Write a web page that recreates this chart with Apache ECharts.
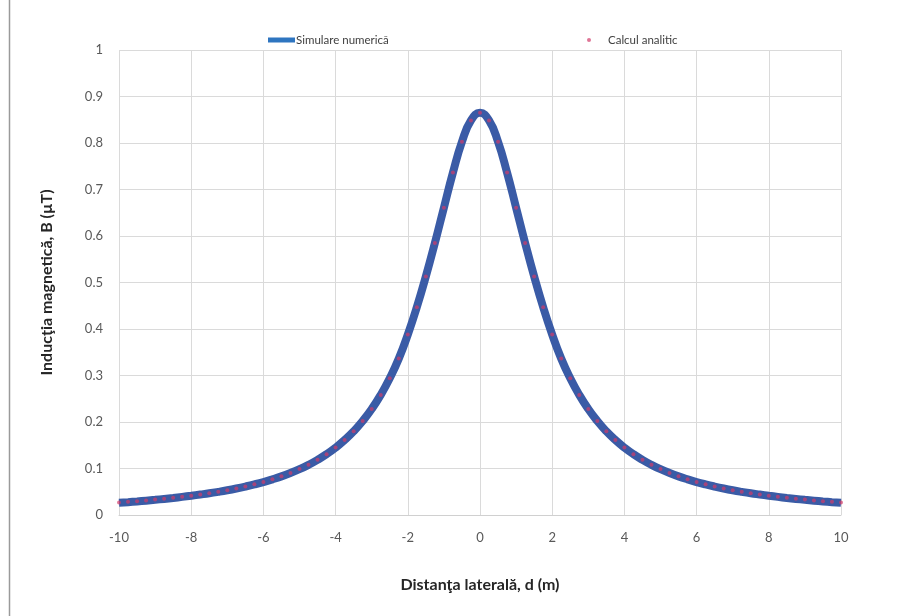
<!DOCTYPE html>
<html>
<head>
<meta charset="utf-8">
<script src="https://cdn.jsdelivr.net/npm/echarts@6/dist/echarts.min.js"></script>
<style>
  html, body { margin: 0; padding: 0; background: #fff; }
  #chart { width: 899px; height: 616px; }
</style>
</head>
<body>
<div id="chart"></div>
<script>
// Lateral distance d (m), 0.25 m step
const distances = [];
for (let i = -40; i <= 40; i++) distances.push(i / 4);

// Magnetic induction B (µT) from the numerical simulation
const simulareNumerica = [
  0.0262, 0.0276, 0.0291, 0.0308, 0.0326, 0.0346, 0.0367, 0.0390, 0.0414, 0.0440,
  0.0467, 0.0498, 0.0532, 0.0570, 0.0612, 0.0658, 0.0709, 0.0767, 0.0831, 0.0904,
  0.0986, 0.1079, 0.1186, 0.1308, 0.1449, 0.1612, 0.1800, 0.2021, 0.2279, 0.2583,
  0.2941, 0.3363, 0.3880, 0.4470, 0.5130, 0.5850, 0.6610, 0.7364, 0.8027, 0.8485,
  0.8650,
  0.8485, 0.8027, 0.7364, 0.6610, 0.5850, 0.5130, 0.4470, 0.3880, 0.3363, 0.2941,
  0.2583, 0.2279, 0.2021, 0.1800, 0.1612, 0.1449, 0.1308, 0.1186, 0.1079, 0.0986,
  0.0904, 0.0831, 0.0767, 0.0709, 0.0658, 0.0612, 0.0570, 0.0532, 0.0498, 0.0467,
  0.0440, 0.0414, 0.0390, 0.0367, 0.0346, 0.0326, 0.0308, 0.0291, 0.0276, 0.0262
];

// Magnetic induction B (µT) from the analytical calculation
const calculAnalitic = [
  0.0270, 0.0283, 0.0298, 0.0314, 0.0331, 0.0349, 0.0369, 0.0391, 0.0414, 0.0440,
  0.0468, 0.0499, 0.0533, 0.0571, 0.0613, 0.0659, 0.0710, 0.0768, 0.0832, 0.0905,
  0.0987, 0.1080, 0.1187, 0.1309, 0.1449, 0.1612, 0.1800, 0.2021, 0.2279, 0.2583,
  0.2941, 0.3363, 0.3880, 0.4470, 0.5130, 0.5850, 0.6610, 0.7364, 0.8027, 0.8485,
  0.8650,
  0.8485, 0.8027, 0.7364, 0.6610, 0.5850, 0.5130, 0.4470, 0.3880, 0.3363, 0.2941,
  0.2583, 0.2279, 0.2021, 0.1800, 0.1612, 0.1449, 0.1309, 0.1187, 0.1080, 0.0987,
  0.0905, 0.0832, 0.0768, 0.0710, 0.0659, 0.0613, 0.0571, 0.0533, 0.0499, 0.0468,
  0.0440, 0.0414, 0.0391, 0.0369, 0.0349, 0.0331, 0.0314, 0.0298, 0.0283, 0.0270
];

const seriesNames = ['Simulare numerică', 'Calcul analitic'];
const xTitle = 'Distanţa laterală, d (m)';
const yTitle = 'Inducţia magnetică, B (µT)';

const FONT = 'Lato, "Open Sans", sans-serif';

const chart = echarts.init(document.getElementById('chart'), null, { renderer: 'canvas' });

chart.setOption({
  backgroundColor: '#ffffff',
  animation: false,
  textStyle: { fontFamily: FONT },
  grid: { left: 119, right: 58, top: 50, bottom: 101 },
  legend: [
    {
      data: [{ name: seriesNames[0], icon: 'rect' }],
      left: 263, top: 29,
      itemWidth: 27, itemHeight: 5, itemGap: 4,
      textStyle: { fontFamily: FONT, fontSize: 11.5, color: '#404040', padding: [0, 0, 0, -4] }
    },
    {
      data: [{ name: seriesNames[1], icon: 'circle' }],
      left: 582, top: 29,
      itemWidth: 4, itemHeight: 4,
      textStyle: { fontFamily: FONT, fontSize: 11.5, color: '#404040', padding: [0, 0, 0, 12] }
    }
  ],
  xAxis: {
    type: 'value',
    min: -10, max: 10, interval: 2,
    name: xTitle,
    nameLocation: 'middle',
    nameGap: 62,
    nameTextStyle: { fontFamily: FONT, fontSize: 16, fontWeight: 'bold', color: '#262626' },
    axisLine: { show: true, onZero: false, lineStyle: { color: '#d0d0d0', width: 1 } },
    axisTick: { show: false },
    axisLabel: { fontFamily: FONT, fontSize: 13, color: '#595959', margin: 16 },
    splitLine: { show: true, lineStyle: { color: '#dadada', width: 1 } }
  },
  yAxis: {
    type: 'value',
    min: 0, max: 1, interval: 0.1,
    name: yTitle,
    nameLocation: 'middle',
    nameGap: 64,
    nameTextStyle: { fontFamily: FONT, fontSize: 16, fontWeight: 'bold', color: '#262626' },
    axisLine: { show: false },
    axisTick: { show: false },
    axisLabel: {
      fontFamily: FONT, fontSize: 13, color: '#595959', margin: 16,
      formatter: v => String(Math.round(v * 10) / 10)
    },
    splitLine: { show: true, lineStyle: { color: '#dadada', width: 1 } }
  },
  series: [
    {
      name: seriesNames[0],
      type: 'line',
      data: distances.map((d, i) => [d, simulareNumerica[i]]),
      smooth: true,
      showSymbol: false,
      symbol: 'none',
      itemStyle: { color: '#2e75c0' },
      lineStyle: { color: '#3a5ba6', width: 8 },
      z: 2
    },
    {
      name: seriesNames[1],
      type: 'scatter',
      data: distances.map((d, i) => [d, calculAnalitic[i]]),
      symbol: 'circle',
      symbolSize: 4,
      itemStyle: { color: '#d23a6a', opacity: 0.7 },
      z: 3
    }
  ],
  graphic: [
    {
      type: 'line',
      shape: { x1: 9.5, y1: 0, x2: 9.5, y2: 616 },
      style: { stroke: '#9a9a9a', lineWidth: 1.5 }
    }
  ]
});
</script>
</body>
</html>
